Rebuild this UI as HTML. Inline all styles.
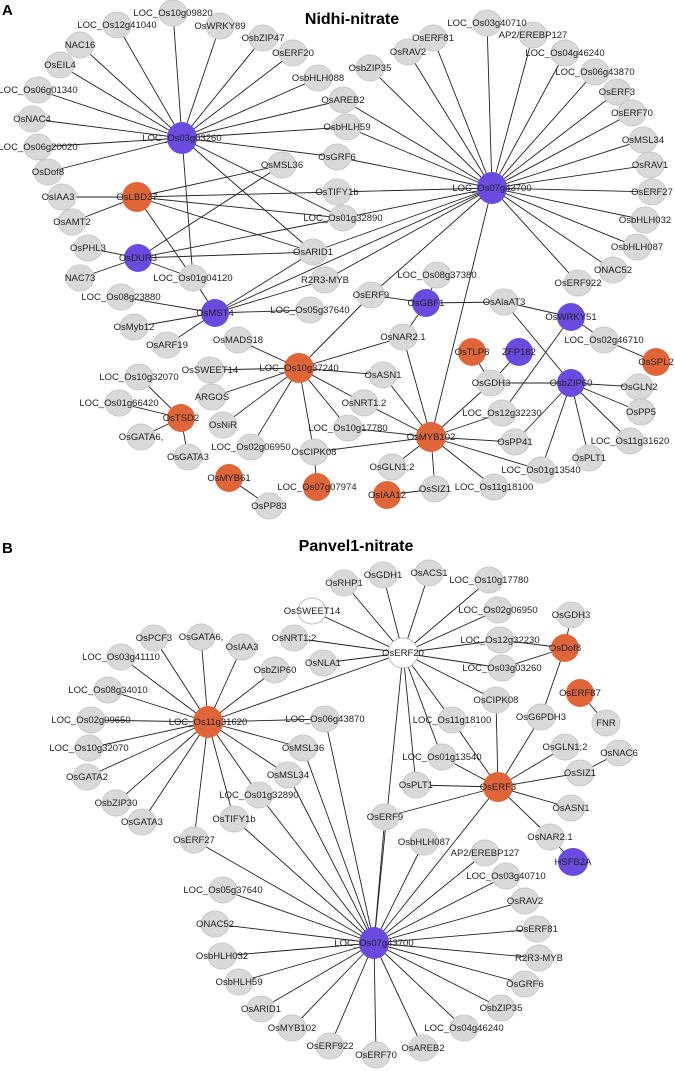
<!DOCTYPE html>
<html><head><meta charset="utf-8"><style>
html,body{margin:0;padding:0;background:#fff}
svg{display:block}
text{font-family:"Liberation Sans",Arial,sans-serif;font-size:9.5px;fill:#222;text-anchor:middle}
.t{font-weight:bold;font-size:16px;fill:#000}
.l{font-weight:bold;font-size:15px;fill:#000;text-anchor:start}
line{stroke:#222;stroke-width:0.9}
.g{fill:#d9d9d9;stroke:#c9c9c9}
.p{fill:#6b4ae0}
.o{fill:#e0663a}
.w{fill:#fff;stroke:#bbb}
</style></head><body>
<svg width="675" height="1071" viewBox="0 0 675 1071">
<text class="l" x="2" y="15">A</text>
<text class="t" x="352" y="24">Nidhi-nitrate</text>
<text class="l" x="2" y="553">B</text>
<text class="t" x="356" y="551">Panvel1-nitrate</text>

<g>
<!-- Panel A: H1 -->
<line x1="182" y1="138" x2="173" y2="13"/><line x1="182" y1="138" x2="117" y2="25"/><line x1="182" y1="138" x2="220" y2="26"/><line x1="182" y1="138" x2="263" y2="38"/><line x1="182" y1="138" x2="80" y2="45"/><line x1="182" y1="138" x2="293" y2="53"/><line x1="182" y1="138" x2="60" y2="65"/><line x1="182" y1="138" x2="318" y2="78"/><line x1="182" y1="138" x2="38" y2="90"/><line x1="182" y1="138" x2="343" y2="100"/><line x1="182" y1="138" x2="32" y2="119"/><line x1="182" y1="138" x2="347" y2="127"/><line x1="182" y1="138" x2="38" y2="147"/><line x1="182" y1="138" x2="337" y2="157"/><line x1="182" y1="138" x2="48" y2="172"/><line x1="182" y1="138" x2="313" y2="252"/><line x1="182" y1="138" x2="343" y2="218"/><line x1="182" y1="138" x2="193" y2="278"/>
<!-- LBD37 -->
<line x1="137" y1="197" x2="62" y2="197"/><line x1="137" y1="197" x2="72" y2="222"/><line x1="137" y1="197" x2="282" y2="165"/><line x1="137" y1="197" x2="337" y2="192"/><line x1="137" y1="197" x2="343" y2="218"/><line x1="137" y1="197" x2="313" y2="252"/><line x1="137" y1="197" x2="193" y2="278"/>
<!-- DUR3 -->
<line x1="138" y1="258" x2="88" y2="248"/><line x1="138" y1="258" x2="80" y2="278"/><line x1="138" y1="258" x2="313" y2="252"/><line x1="138" y1="258" x2="282" y2="165"/><line x1="138" y1="258" x2="343" y2="218"/><line x1="138" y1="258" x2="193" y2="278"/>
<!-- MST4 -->
<line x1="215" y1="313" x2="193" y2="278"/><line x1="215" y1="313" x2="313" y2="252"/><line x1="215" y1="313" x2="325" y2="280"/><line x1="215" y1="313" x2="310" y2="310"/><line x1="215" y1="313" x2="121" y2="297"/><line x1="215" y1="313" x2="134" y2="327"/><line x1="215" y1="313" x2="167" y2="345"/><line x1="215" y1="313" x2="492" y2="188"/>
<!-- H2 -->
<line x1="492" y1="188" x2="313" y2="252"/><line x1="492" y1="188" x2="343" y2="218"/><line x1="492" y1="188" x2="337" y2="192"/><line x1="492" y1="188" x2="337" y2="157"/><line x1="492" y1="188" x2="347" y2="127"/><line x1="492" y1="188" x2="343" y2="100"/><line x1="492" y1="188" x2="370" y2="68"/><line x1="492" y1="188" x2="408" y2="52"/><line x1="492" y1="188" x2="433" y2="38"/><line x1="492" y1="188" x2="487" y2="23"/><line x1="492" y1="188" x2="533" y2="35"/><line x1="492" y1="188" x2="565" y2="53"/><line x1="492" y1="188" x2="595" y2="72"/><line x1="492" y1="188" x2="617" y2="92"/><line x1="492" y1="188" x2="632" y2="113"/><line x1="492" y1="188" x2="643" y2="140"/><line x1="492" y1="188" x2="650" y2="165"/><line x1="492" y1="188" x2="652" y2="192"/><line x1="492" y1="188" x2="645" y2="220"/><line x1="492" y1="188" x2="637" y2="247"/><line x1="492" y1="188" x2="613" y2="270"/><line x1="492" y1="188" x2="578" y2="283"/><line x1="492" y1="188" x2="431" y2="437"/><line x1="492" y1="188" x2="371" y2="295"/><line x1="492" y1="188" x2="325" y2="280"/>
<!-- GBF1 etc -->
<line x1="426" y1="303" x2="437" y2="275"/><line x1="426" y1="303" x2="371" y2="295"/><line x1="426" y1="303" x2="504" y2="302"/><line x1="426" y1="303" x2="403" y2="337"/>
<line x1="504" y1="302" x2="571" y2="317"/><line x1="504" y1="302" x2="571" y2="383"/>
<line x1="571" y1="317" x2="604" y2="340"/><line x1="571" y1="317" x2="502" y2="413"/><line x1="604" y1="340" x2="656" y2="362"/>
<!-- L37240 -->
<line x1="299" y1="368" x2="371" y2="295"/><line x1="299" y1="368" x2="403" y2="337"/><line x1="299" y1="368" x2="238" y2="340"/><line x1="299" y1="368" x2="210" y2="370"/><line x1="299" y1="368" x2="383" y2="375"/><line x1="299" y1="368" x2="212" y2="397"/><line x1="299" y1="368" x2="223" y2="425"/><line x1="299" y1="368" x2="251" y2="447"/><line x1="299" y1="368" x2="314" y2="452"/><line x1="299" y1="368" x2="348" y2="428"/><line x1="299" y1="368" x2="364" y2="403"/>
<!-- MYB102 -->
<line x1="431" y1="437" x2="403" y2="337"/><line x1="431" y1="437" x2="383" y2="375"/><line x1="431" y1="437" x2="364" y2="403"/><line x1="431" y1="437" x2="348" y2="428"/><line x1="431" y1="437" x2="314" y2="452"/><line x1="431" y1="437" x2="491" y2="383"/><line x1="431" y1="437" x2="502" y2="413"/><line x1="431" y1="437" x2="515" y2="442"/><line x1="431" y1="437" x2="541" y2="470"/><line x1="431" y1="437" x2="494" y2="487"/><line x1="431" y1="437" x2="435" y2="489"/><line x1="431" y1="437" x2="392" y2="467"/>
<line x1="491" y1="383" x2="472" y2="352"/><line x1="491" y1="383" x2="519" y2="352"/><line x1="491" y1="383" x2="571" y2="383"/>
<line x1="571" y1="383" x2="639" y2="387"/><line x1="571" y1="383" x2="641" y2="412"/><line x1="571" y1="383" x2="630" y2="441"/><line x1="571" y1="383" x2="589" y2="458"/><line x1="571" y1="383" x2="541" y2="470"/><line x1="571" y1="383" x2="515" y2="442"/>
<line x1="181" y1="418" x2="139" y2="377"/><line x1="181" y1="418" x2="119" y2="403"/><line x1="181" y1="418" x2="141" y2="437"/><line x1="181" y1="418" x2="188" y2="457"/>
<line x1="229" y1="478" x2="269" y2="506"/><line x1="314" y1="452" x2="317" y2="487"/><line x1="387" y1="495" x2="435" y2="489"/>

<!-- Panel B: ERF20 -->
<line x1="403" y1="653" x2="344" y2="583"/><line x1="403" y1="653" x2="383" y2="575"/><line x1="403" y1="653" x2="429" y2="573"/><line x1="403" y1="653" x2="489" y2="580"/><line x1="403" y1="653" x2="312" y2="611"/><line x1="403" y1="653" x2="498" y2="610"/><line x1="403" y1="653" x2="294" y2="638"/><line x1="403" y1="653" x2="323" y2="663"/><line x1="403" y1="653" x2="500" y2="640"/><line x1="403" y1="653" x2="502" y2="668"/><line x1="403" y1="653" x2="208" y2="722"/><line x1="403" y1="653" x2="496" y2="700"/><line x1="403" y1="653" x2="452" y2="720"/><line x1="403" y1="653" x2="442" y2="757"/><line x1="403" y1="653" x2="416" y2="785"/><line x1="403" y1="653" x2="374" y2="943"/>
<line x1="565" y1="648" x2="500" y2="640"/><line x1="565" y1="648" x2="502" y2="668"/><line x1="565" y1="648" x2="571" y2="615"/><line x1="565" y1="648" x2="541" y2="717"/><line x1="580" y1="693" x2="606" y2="723"/>
<!-- ERF3 -->
<line x1="498" y1="787" x2="496" y2="700"/><line x1="498" y1="787" x2="541" y2="717"/><line x1="498" y1="787" x2="565" y2="747"/><line x1="498" y1="787" x2="580" y2="773"/><line x1="619" y1="753" x2="580" y2="773"/><line x1="498" y1="787" x2="571" y2="808"/><line x1="498" y1="787" x2="550" y2="837"/><line x1="550" y1="837" x2="573" y2="862"/><line x1="498" y1="787" x2="416" y2="785"/><line x1="498" y1="787" x2="442" y2="757"/><line x1="498" y1="787" x2="452" y2="720"/><line x1="498" y1="787" x2="385" y2="817"/><line x1="498" y1="787" x2="374" y2="943"/>
<!-- L11g31620 -->
<line x1="208" y1="722" x2="154" y2="638"/><line x1="208" y1="722" x2="201" y2="637"/><line x1="208" y1="722" x2="242" y2="647"/><line x1="208" y1="722" x2="121" y2="657"/><line x1="208" y1="722" x2="275" y2="670"/><line x1="208" y1="722" x2="108" y2="690"/><line x1="208" y1="722" x2="91" y2="720"/><line x1="208" y1="722" x2="325" y2="719"/><line x1="208" y1="722" x2="89" y2="748"/><line x1="208" y1="722" x2="87" y2="777"/><line x1="208" y1="722" x2="303" y2="748"/><line x1="208" y1="722" x2="288" y2="775"/><line x1="208" y1="722" x2="259" y2="795"/><line x1="208" y1="722" x2="116" y2="803"/><line x1="208" y1="722" x2="142" y2="822"/><line x1="208" y1="722" x2="234" y2="819"/><line x1="208" y1="722" x2="194" y2="840"/>
<!-- H3 -->
<line x1="374" y1="943" x2="194" y2="840"/><line x1="374" y1="943" x2="234" y2="819"/><line x1="374" y1="943" x2="259" y2="795"/><line x1="374" y1="943" x2="288" y2="775"/><line x1="374" y1="943" x2="303" y2="748"/><line x1="374" y1="943" x2="325" y2="719"/><line x1="374" y1="943" x2="385" y2="817"/><line x1="374" y1="943" x2="424" y2="842"/><line x1="374" y1="943" x2="485" y2="853"/><line x1="374" y1="943" x2="506" y2="876"/><line x1="374" y1="943" x2="525" y2="901"/><line x1="374" y1="943" x2="537" y2="929"/><line x1="374" y1="943" x2="539" y2="958"/><line x1="374" y1="943" x2="525" y2="984"/><line x1="374" y1="943" x2="501" y2="1008"/><line x1="374" y1="943" x2="464" y2="1028"/><line x1="374" y1="943" x2="423" y2="1048"/><line x1="374" y1="943" x2="376" y2="1055"/><line x1="374" y1="943" x2="330" y2="1046"/><line x1="374" y1="943" x2="292" y2="1028"/><line x1="374" y1="943" x2="261" y2="1009"/><line x1="374" y1="943" x2="239" y2="982"/><line x1="374" y1="943" x2="222" y2="956"/><line x1="374" y1="943" x2="215" y2="924"/><line x1="374" y1="943" x2="223" y2="890"/>
</g>

<g>
<!-- Panel A nodes -->
<ellipse class="p" cx="182" cy="138" rx="15" ry="16"/>
<ellipse class="g" cx="173" cy="13" rx="14" ry="13"/><ellipse class="g" cx="117" cy="25" rx="14" ry="13"/><ellipse class="g" cx="220" cy="26" rx="14" ry="13"/><ellipse class="g" cx="263" cy="38" rx="14" ry="13"/><ellipse class="g" cx="80" cy="45" rx="14" ry="13"/><ellipse class="g" cx="293" cy="53" rx="14" ry="13"/><ellipse class="g" cx="60" cy="65" rx="14" ry="13"/><ellipse class="g" cx="318" cy="78" rx="14" ry="13"/><ellipse class="g" cx="38" cy="90" rx="14" ry="13"/><ellipse class="g" cx="343" cy="100" rx="14" ry="13"/><ellipse class="g" cx="32" cy="119" rx="14" ry="13"/><ellipse class="g" cx="347" cy="127" rx="14" ry="13"/><ellipse class="g" cx="38" cy="147" rx="14" ry="13"/><ellipse class="g" cx="337" cy="157" rx="14" ry="13"/><ellipse class="g" cx="48" cy="172" rx="14" ry="13"/><ellipse class="g" cx="282" cy="165" rx="14" ry="13"/><ellipse class="g" cx="62" cy="197" rx="14" ry="13"/><ellipse class="o" cx="137" cy="197" rx="15" ry="15"/><ellipse class="g" cx="337" cy="192" rx="14" ry="13"/><ellipse class="g" cx="72" cy="222" rx="14" ry="13"/><ellipse class="g" cx="343" cy="218" rx="14" ry="13"/><ellipse class="g" cx="88" cy="248" rx="14" ry="13"/><ellipse class="p" cx="138" cy="258" rx="14" ry="14"/><ellipse class="g" cx="313" cy="252" rx="14" ry="13"/>
<ellipse class="p" cx="492" cy="188" rx="15" ry="16"/>
<ellipse class="g" cx="487" cy="23" rx="14" ry="13"/><ellipse class="g" cx="533" cy="35" rx="14" ry="13"/><ellipse class="g" cx="433" cy="38" rx="14" ry="13"/><ellipse class="g" cx="408" cy="52" rx="14" ry="13"/><ellipse class="g" cx="565" cy="53" rx="14" ry="13"/><ellipse class="g" cx="370" cy="68" rx="14" ry="13"/><ellipse class="g" cx="595" cy="72" rx="14" ry="13"/><ellipse class="g" cx="617" cy="92" rx="14" ry="13"/><ellipse class="g" cx="632" cy="113" rx="14" ry="13"/><ellipse class="g" cx="643" cy="140" rx="14" ry="13"/><ellipse class="g" cx="650" cy="165" rx="14" ry="13"/><ellipse class="g" cx="652" cy="192" rx="14" ry="13"/><ellipse class="g" cx="645" cy="220" rx="14" ry="13"/><ellipse class="g" cx="637" cy="247" rx="14" ry="13"/><ellipse class="g" cx="613" cy="270" rx="14" ry="13"/><ellipse class="g" cx="578" cy="283" rx="14" ry="13"/>
<ellipse class="g" cx="80" cy="278" rx="14" ry="13"/><ellipse class="g" cx="193" cy="278" rx="14" ry="13"/><ellipse class="g" cx="325" cy="280" rx="14" ry="13"/><ellipse class="g" cx="437" cy="275" rx="14" ry="13"/><ellipse class="g" cx="121" cy="297" rx="14" ry="13"/><ellipse class="g" cx="371" cy="295" rx="14" ry="13"/><ellipse class="p" cx="426" cy="303" rx="14" ry="14"/><ellipse class="g" cx="504" cy="302" rx="14" ry="13"/><ellipse class="p" cx="215" cy="313" rx="14" ry="14"/><ellipse class="g" cx="310" cy="310" rx="14" ry="13"/><ellipse class="p" cx="571" cy="317" rx="14" ry="14"/><ellipse class="g" cx="134" cy="327" rx="14" ry="13"/><ellipse class="g" cx="238" cy="340" rx="14" ry="13"/><ellipse class="g" cx="403" cy="337" rx="14" ry="13"/><ellipse class="g" cx="167" cy="345" rx="14" ry="13"/><ellipse class="g" cx="604" cy="340" rx="14" ry="13"/><ellipse class="o" cx="472" cy="352" rx="14" ry="14"/><ellipse class="p" cx="519" cy="352" rx="14" ry="14"/><ellipse class="o" cx="656" cy="362" rx="14" ry="14"/><ellipse class="o" cx="299" cy="368" rx="15" ry="15"/><ellipse class="g" cx="210" cy="370" rx="14" ry="13"/><ellipse class="g" cx="383" cy="375" rx="14" ry="13"/><ellipse class="g" cx="139" cy="377" rx="14" ry="13"/><ellipse class="g" cx="491" cy="383" rx="14" ry="13"/><ellipse class="p" cx="571" cy="383" rx="14" ry="14"/><ellipse class="g" cx="639" cy="387" rx="14" ry="13"/><ellipse class="g" cx="212" cy="397" rx="14" ry="13"/><ellipse class="g" cx="364" cy="403" rx="14" ry="13"/><ellipse class="g" cx="119" cy="403" rx="14" ry="13"/><ellipse class="g" cx="641" cy="412" rx="14" ry="13"/><ellipse class="g" cx="502" cy="413" rx="14" ry="13"/><ellipse class="o" cx="181" cy="418" rx="14" ry="14"/><ellipse class="g" cx="223" cy="425" rx="14" ry="13"/><ellipse class="g" cx="348" cy="428" rx="14" ry="13"/><ellipse class="o" cx="431" cy="437" rx="15" ry="15"/><ellipse class="g" cx="141" cy="437" rx="14" ry="13"/><ellipse class="g" cx="630" cy="441" rx="14" ry="13"/><ellipse class="g" cx="515" cy="442" rx="14" ry="13"/><ellipse class="g" cx="251" cy="447" rx="14" ry="13"/><ellipse class="g" cx="314" cy="452" rx="14" ry="13"/><ellipse class="g" cx="589" cy="458" rx="14" ry="13"/><ellipse class="g" cx="188" cy="457" rx="14" ry="13"/><ellipse class="g" cx="392" cy="467" rx="14" ry="13"/><ellipse class="g" cx="541" cy="470" rx="14" ry="13"/><ellipse class="o" cx="229" cy="478" rx="14" ry="14"/><ellipse class="o" cx="317" cy="487" rx="14" ry="14"/><ellipse class="o" cx="387" cy="495" rx="14" ry="14"/><ellipse class="g" cx="435" cy="489" rx="14" ry="13"/><ellipse class="g" cx="494" cy="487" rx="14" ry="13"/><ellipse class="g" cx="269" cy="506" rx="14" ry="13"/>

<!-- Panel B nodes -->
<ellipse class="g" cx="344" cy="583" rx="14" ry="13"/><ellipse class="g" cx="383" cy="575" rx="14" ry="13"/><ellipse class="g" cx="429" cy="573" rx="14" ry="13"/><ellipse class="g" cx="489" cy="580" rx="14" ry="13"/><ellipse class="w" cx="312" cy="611" rx="14" ry="13"/><ellipse class="g" cx="498" cy="610" rx="14" ry="13"/><ellipse class="g" cx="571" cy="615" rx="14" ry="13"/><ellipse class="g" cx="154" cy="638" rx="14" ry="13"/><ellipse class="g" cx="201" cy="637" rx="14" ry="13"/><ellipse class="g" cx="242" cy="647" rx="14" ry="13"/><ellipse class="g" cx="294" cy="638" rx="14" ry="13"/><ellipse class="g" cx="500" cy="640" rx="14" ry="13"/><ellipse class="o" cx="565" cy="648" rx="14" ry="14"/><ellipse class="g" cx="121" cy="657" rx="14" ry="13"/><ellipse class="w" cx="403" cy="653" rx="15" ry="15"/><ellipse class="g" cx="323" cy="663" rx="14" ry="13"/><ellipse class="g" cx="275" cy="670" rx="14" ry="13"/><ellipse class="g" cx="502" cy="668" rx="14" ry="13"/><ellipse class="g" cx="108" cy="690" rx="14" ry="13"/><ellipse class="o" cx="580" cy="693" rx="14" ry="14"/><ellipse class="g" cx="496" cy="700" rx="14" ry="13"/><ellipse class="g" cx="91" cy="720" rx="14" ry="13"/><ellipse class="o" cx="208" cy="722" rx="15" ry="16"/><ellipse class="g" cx="325" cy="719" rx="14" ry="13"/><ellipse class="g" cx="452" cy="720" rx="14" ry="13"/><ellipse class="g" cx="541" cy="717" rx="14" ry="13"/><ellipse class="g" cx="606" cy="723" rx="14" ry="13"/><ellipse class="g" cx="89" cy="748" rx="14" ry="13"/><ellipse class="g" cx="303" cy="748" rx="14" ry="13"/><ellipse class="g" cx="565" cy="747" rx="14" ry="13"/><ellipse class="g" cx="619" cy="753" rx="14" ry="13"/><ellipse class="g" cx="442" cy="757" rx="14" ry="13"/><ellipse class="g" cx="87" cy="777" rx="14" ry="13"/><ellipse class="g" cx="288" cy="775" rx="14" ry="13"/><ellipse class="g" cx="580" cy="773" rx="14" ry="13"/><ellipse class="g" cx="416" cy="785" rx="14" ry="13"/><ellipse class="o" cx="498" cy="787" rx="15" ry="15"/><ellipse class="g" cx="259" cy="795" rx="14" ry="13"/><ellipse class="g" cx="116" cy="803" rx="14" ry="13"/><ellipse class="g" cx="142" cy="822" rx="14" ry="13"/><ellipse class="g" cx="234" cy="819" rx="14" ry="13"/><ellipse class="g" cx="194" cy="840" rx="14" ry="13"/><ellipse class="g" cx="385" cy="817" rx="14" ry="13"/><ellipse class="g" cx="571" cy="808" rx="14" ry="13"/><ellipse class="g" cx="550" cy="837" rx="14" ry="13"/><ellipse class="p" cx="573" cy="862" rx="15" ry="14"/><ellipse class="g" cx="424" cy="842" rx="14" ry="13"/><ellipse class="g" cx="485" cy="853" rx="14" ry="13"/><ellipse class="g" cx="506" cy="876" rx="14" ry="13"/><ellipse class="g" cx="223" cy="890" rx="14" ry="13"/><ellipse class="g" cx="525" cy="901" rx="14" ry="13"/><ellipse class="g" cx="215" cy="924" rx="14" ry="13"/><ellipse class="g" cx="537" cy="929" rx="14" ry="13"/><ellipse class="p" cx="374" cy="943" rx="15" ry="16"/><ellipse class="g" cx="222" cy="956" rx="14" ry="13"/><ellipse class="g" cx="539" cy="958" rx="14" ry="13"/><ellipse class="g" cx="239" cy="982" rx="14" ry="13"/><ellipse class="g" cx="525" cy="984" rx="14" ry="13"/><ellipse class="g" cx="261" cy="1009" rx="14" ry="13"/><ellipse class="g" cx="501" cy="1008" rx="14" ry="13"/><ellipse class="g" cx="292" cy="1028" rx="14" ry="13"/><ellipse class="g" cx="464" cy="1028" rx="14" ry="13"/><ellipse class="g" cx="330" cy="1046" rx="14" ry="13"/><ellipse class="g" cx="423" cy="1048" rx="14" ry="13"/><ellipse class="g" cx="376" cy="1055" rx="14" ry="13"/>
</g>

<g>
<!-- Panel A labels -->
<text x="182" y="141">LOC_Os03g03260</text>
<text x="173" y="16">LOC_Os10g09820</text><text x="117" y="28">LOC_Os12g41040</text><text x="220" y="29">OsWRKY89</text><text x="263" y="41">OsbZIP47</text><text x="80" y="48">NAC16</text><text x="293" y="56">OsERF20</text><text x="60" y="68">OsEIL4</text><text x="318" y="81">OsbHLH088</text><text x="38" y="93">LOC_Os06g01340</text><text x="343" y="103">OsAREB2</text><text x="32" y="122">OsNAC4</text><text x="347" y="130">OsbHLH59</text><text x="38" y="150">LOC_Os06g20020</text><text x="337" y="160">OsGRF6</text><text x="48" y="175">OsDof8</text><text x="282" y="168">OsMSL36</text><text x="58" y="200">OsIAA3</text><text x="137" y="200">OsLBD37</text><text x="337" y="195">OsTIFY1b</text><text x="72" y="225">OsAMT2</text><text x="343" y="221">LOC_Os01g32890</text><text x="88" y="251">OsPHL3</text><text x="138" y="261">OsDUR3</text><text x="313" y="255">OsARID1</text>
<text x="492" y="191">LOC_Os07g43700</text>
<text x="487" y="26">LOC_Os03g40710</text><text x="533" y="38">AP2/EREBP127</text><text x="433" y="41">OsERF81</text><text x="408" y="55">OsRAV2</text><text x="565" y="56">LOC_Os04g46240</text><text x="370" y="71">OsbZIP35</text><text x="595" y="75">LOC_Os06g43870</text><text x="617" y="95">OsERF3</text><text x="632" y="116">OsERF70</text><text x="643" y="143">OsMSL34</text><text x="650" y="168">OsRAV1</text><text x="652" y="195">OsERF27</text><text x="645" y="223">OsbHLH032</text><text x="637" y="250">OsbHLH087</text><text x="613" y="273">ONAC52</text><text x="578" y="286">OsERF922</text>
<text x="80" y="281">NAC73</text><text x="193" y="281">LOC_Os01g04120</text><text x="325" y="283">R2R3-MYB</text><text x="437" y="278">LOC_Os08g37380</text><text x="121" y="300">LOC_Os08g23880</text><text x="371" y="298">OsERF9</text><text x="426" y="306">OsGBF1</text><text x="504" y="305">OsAlaAT3</text><text x="215" y="316">OsMST4</text><text x="310" y="313">LOC_Os05g37640</text><text x="571" y="320">OsWRKY51</text><text x="134" y="330">OsMyb12</text><text x="238" y="343">OsMADS18</text><text x="403" y="340">OsNAR2.1</text><text x="167" y="348">OsARF19</text><text x="604" y="343">LOC_Os02g46710</text><text x="472" y="355">OsTLP8</text><text x="519" y="355">ZFP182</text><text x="656" y="365">OsSPL2</text><text x="299" y="371">LOC_Os10g37240</text><text x="210" y="373">OsSWEET14</text><text x="383" y="378">OsASN1</text><text x="139" y="380">LOC_Os10g32070</text><text x="491" y="386">OsGDH3</text><text x="571" y="386">OsbZIP60</text><text x="639" y="390">OsGLN2</text><text x="212" y="400">ARGOS</text><text x="364" y="406">OsNRT1.2</text><text x="119" y="406">LOC_Os01g66420</text><text x="641" y="415">OsPP5</text><text x="502" y="416">LOC_Os12g32230</text><text x="181" y="421">OsTSD2</text><text x="223" y="428">OsNiR</text><text x="348" y="431">LOC_Os10g17780</text><text x="431" y="440">OsMYB102</text><text x="141" y="440">OsGATA6,</text><text x="630" y="444">LOC_Os11g31620</text><text x="515" y="445">OsPP41</text><text x="251" y="450">LOC_Os02g06950</text><text x="314" y="455">OsCIPK08</text><text x="589" y="461">OsPLT1</text><text x="188" y="460">OsGATA3</text><text x="392" y="470">OsGLN1;2</text><text x="541" y="473">LOC_Os01g13540</text><text x="229" y="481">OsMYB61</text><text x="317" y="490">LOC_Os07g07974</text><text x="387" y="498">OsIAA12</text><text x="435" y="492">OsSIZ1</text><text x="494" y="490">LOC_Os11g18100</text><text x="269" y="509">OsPP83</text>

<!-- Panel B labels -->
<text x="344" y="586">OsRHP1</text><text x="383" y="578">OsGDH1</text><text x="429" y="576">OsACS1</text><text x="489" y="583">LOC_Os10g17780</text><text x="312" y="614">OsSWEET14</text><text x="498" y="613">LOC_Os02g06950</text><text x="571" y="618">OsGDH3</text><text x="154" y="641">OsPCF3</text><text x="201" y="640">OsGATA6,</text><text x="242" y="650">OsIAA3</text><text x="294" y="641">OsNRT1;2</text><text x="500" y="643">LOC_Os12g32230</text><text x="565" y="651">OsDof8</text><text x="121" y="660">LOC_Os03g41110</text><text x="403" y="656">OsERF20</text><text x="323" y="666">OsNLA1</text><text x="275" y="673">OsbZIP60</text><text x="502" y="671">LOC_Os03g03260</text><text x="108" y="693">LOC_Os08g34010</text><text x="580" y="696">OsERF87</text><text x="496" y="703">OsCIPK08</text><text x="91" y="723">LOC_Os02g09650</text><text x="208" y="725">LOC_Os11g31620</text><text x="325" y="722">LOC_Os06g43870</text><text x="452" y="723">LOC_Os11g18100</text><text x="541" y="720">OsG6PDH3</text><text x="606" y="726">FNR</text><text x="89" y="751">LOC_Os10g32070</text><text x="303" y="751">OsMSL36</text><text x="565" y="750">OsGLN1;2</text><text x="619" y="756">OsNAC6</text><text x="442" y="760">LOC_Os01g13540</text><text x="87" y="780">OsGATA2</text><text x="288" y="778">OsMSL34</text><text x="580" y="776">OsSIZ1</text><text x="416" y="788">OsPLT1</text><text x="498" y="790">OsERF3</text><text x="259" y="798">LOC_Os01g32890</text><text x="116" y="806">OsbZIP30</text><text x="142" y="825">OsGATA3</text><text x="234" y="822">OsTIFY1b</text><text x="194" y="843">OsERF27</text><text x="385" y="820">OsERF9</text><text x="571" y="811">OsASN1</text><text x="550" y="840">OsNAR2.1</text><text x="573" y="865">HSFB2A</text><text x="424" y="845">OsbHLH087</text><text x="485" y="856">AP2/EREBP127</text><text x="506" y="879">LOC_Os03g40710</text><text x="223" y="893">LOC_Os05g37640</text><text x="525" y="904">OsRAV2</text><text x="215" y="927">ONAC52</text><text x="537" y="932">OsERF81</text><text x="374" y="946">LOC_Os07g43700</text><text x="222" y="959">OsbHLH032</text><text x="539" y="961">R2R3-MYB</text><text x="239" y="985">OsbHLH59</text><text x="525" y="987">OsGRF6</text><text x="261" y="1012">OsARID1</text><text x="501" y="1011">OsbZIP35</text><text x="292" y="1031">OsMYB102</text><text x="464" y="1031">LOC_Os04g46240</text><text x="330" y="1049">OsERF922</text><text x="423" y="1051">OsAREB2</text><text x="376" y="1058">OsERF70</text>
</g>
</svg>
</body></html>
